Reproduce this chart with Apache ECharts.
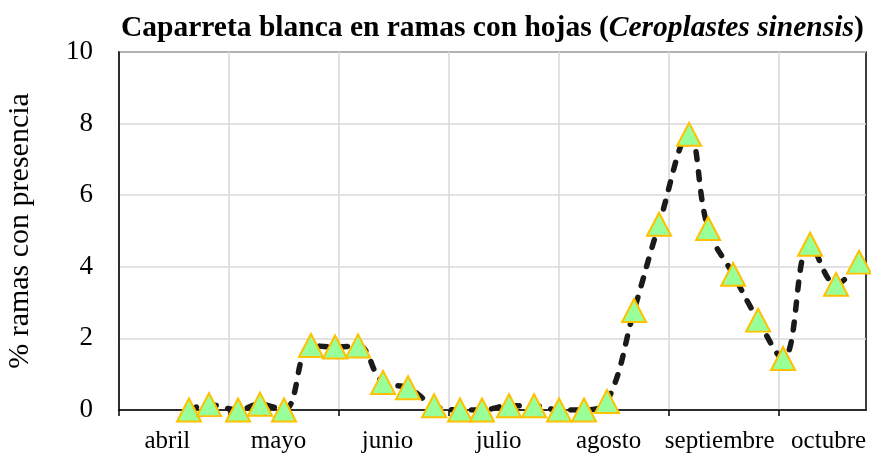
<!DOCTYPE html>
<html>
<head>
<meta charset="utf-8">
<script src="https://cdn.jsdelivr.net/npm/echarts@6/dist/echarts.min.js"></script>
<style>
  html, body { margin: 0; padding: 0; background: #fff; }
  #chart { width: 871px; height: 455px; }
</style>
</head>
<body>
<div id="chart"></div>
<script>
// meses desde el 1 de abril (posición de cada muestreo)
const mes = [0.636, 0.818, 1.082, 1.282, 1.5, 1.745, 1.964, 2.173, 2.4, 2.627,
  2.864, 3.1, 3.3, 3.545, 3.773, 4.0, 4.227, 4.436, 4.682, 4.909,
  5.182, 5.355, 5.582, 5.809, 6.036, 6.282, 6.518, 6.727];
const presencia = [0, 0.15, 0, 0.16, 0, 1.8, 1.76, 1.79, 0.77, 0.62,
  0.12, 0, 0, 0.12, 0.12, 0, 0, 0.24, 2.78, 5.19,
  7.7, 5.07, 3.79, 2.51, 1.44, 4.63, 3.51, 4.13];
const meses = ['abril', 'mayo', 'junio', 'julio', 'agosto', 'septiembre', 'octubre'];
const posEtiquetas = [0.44, 1.45, 2.44, 3.45, 4.45, 5.46, 6.45];
const yTicks = [0, 2, 4, 6, 8, 10];

const chart = echarts.init(document.getElementById('chart'));
const serif = '"Liberation Serif", "Times New Roman", serif';

const option = {
  animation: false,
  title: {
    text: '{b|Caparreta blanca en ramas con hojas (}{i|Ceroplastes sinensis}{b|)}',
    left: 121,
    top: 13,
    padding: 0,
    textStyle: {
      rich: {
        b: { fontFamily: serif, fontWeight: 'bold', fontSize: 29.5, color: '#000' },
        i: { fontFamily: serif, fontWeight: 'bold', fontStyle: 'italic', fontSize: 29.5, color: '#000' }
      }
    }
  },
  grid: {
    left: 119, right: 5, top: 52, bottom: 45,
    outerBoundsMode: 'none',
    show: true, borderColor: '#000', borderWidth: 1.5
  },
  xAxis: {
    type: 'value',
    min: 0,
    max: 6.79,
    interval: 1,
    axisLine: { show: true, lineStyle: { color: '#000', width: 1.5 } },
    axisTick: { show: true, length: 6, customValues: [0, 1, 2, 3, 4, 5, 6], lineStyle: { color: '#000', width: 1.5 } },
    splitLine: { show: true, lineStyle: { color: '#d9d9d9', width: 1.5 } },
    axisLabel: {
      customValues: posEtiquetas,
      formatter: v => meses[Math.floor(v)],
      fontFamily: serif, fontSize: 25, color: '#000', margin: 19
    }
  },
  yAxis: {
    type: 'value',
    min: 0, max: 10, interval: 2,
    name: '% ramas con presencia',
    nameLocation: 'middle',
    nameGap: 84,
    nameTextStyle: { fontFamily: serif, fontSize: 30, color: '#000' },
    axisLine: { show: true, lineStyle: { color: '#000', width: 1.5 } },
    axisTick: { show: false },
    splitLine: { show: true, lineStyle: { color: '#d9d9d9', width: 1.5 } },
    axisLabel: { fontFamily: serif, fontSize: 27, color: '#000', margin: 26,
      formatter: v => yTicks.includes(v) ? String(v) : '' }
  },
  series: [{
    type: 'line',
    data: mes.map((m, i) => [m, presencia[i]]),
    smooth: 0.4,
    symbol: 'triangle',
    symbolSize: [24, 23],
    lineStyle: { color: '#1a1a1a', width: 5.5, type: [8, 12], cap: 'round' },
    itemStyle: { color: '#99ff99', borderColor: '#ffc000', borderWidth: 2 }
  }]
};
chart.setOption(option);
</script>
</body>
</html>
